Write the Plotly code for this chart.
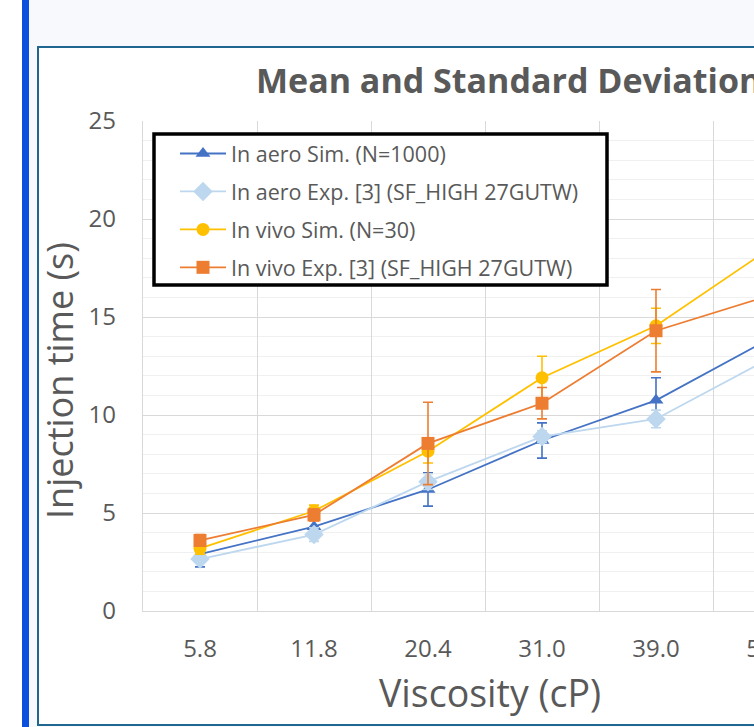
import plotly.graph_objects as go

# ---------------- data ----------------
categories = ["5.8", "11.8", "20.4", "31.0", "39.0", "50.0"]

aero_sim = [2.9, 4.3, 6.2, 8.7, 10.75, 13.9]
aero_sim_sd = [0.65, 0.5, 0.85, 0.9, 1.15, 1.2]

aero_exp = [2.65, 3.9, 6.6, 8.9, 9.8, 12.9]
aero_exp_sd = [0.2, 0.35, 0.4, 0.3, 0.45, 0.5]

vivo_sim = [3.2, 5.1, 8.15, 11.9, 14.55, 18.5]
vivo_sim_sd = [0.3, 0.3, 0.6, 1.1, 0.9, 1.0]

vivo_exp = [3.6, 4.9, 8.55, 10.6, 14.3, 16.1]
vivo_exp_sd = [0.3, 0.3, 2.1, 0.8, 2.1, 1.5]

names = [
    "In aero Sim. (N=1000)",
    "In aero Exp. [3] (SF_HIGH 27GUTW)",
    "In vivo Sim. (N=30)",
    "In vivo Exp. [3] (SF_HIGH 27GUTW)",
]

y_ticks = [0, 5, 10, 15, 20, 25]

title_text = "Mean and Standard Deviation"
x_title = "Viscosity (cP)"
y_title = "Injection time (s)"

# ---------------- layout geometry ----------------
W, H = 900, 727
L, T = 143, 121
PW, PH = 684, 490
R = W - L - PW
B = H - T - PH


def px(x):
    return (x - L) / PW


def py(y):
    return (T + PH - y) / PH


FONT = "Open Sans"
GREY = "#595959"

fig = go.Figure()

series = [
    (aero_sim, aero_sim_sd, "#4472C4", "triangle-up", 13),
    (aero_exp, aero_exp_sd, "#BDD7EE", "diamond", 15),
    (vivo_sim, vivo_sim_sd, "#FFC000", "circle", 13),
    (vivo_exp, vivo_exp_sd, "#ED7D31", "square", 13),
]

for i, (vals, sd, col, sym, ms) in enumerate(series):
    fig.add_trace(
        go.Scatter(
            x=categories,
            y=vals,
            name=names[i],
            mode="lines+markers",
            line=dict(color=col, width=1.8),
            marker=dict(symbol=sym, size=ms, color=col, line=dict(width=0)),
            error_y=dict(type="data", array=sd, visible=True, color=col,
                         thickness=1.6, width=5),
            legendgroup="g%d" % i,
        )
    )

shapes = [
    # left white strip
    dict(type="rect", xref="paper", yref="paper", x0=px(-5), x1=px(22),
         y0=py(H + 5), y1=py(-5), fillcolor="white", line=dict(width=0),
         layer="below"),
    # blue bar
    dict(type="rect", xref="paper", yref="paper", x0=px(22), x1=px(29),
         y0=py(H + 5), y1=py(-5), fillcolor="#0A4FDD", line=dict(width=0),
         layer="below"),
    # chart frame
    dict(type="rect", xref="paper", yref="paper", x0=px(38), x1=px(W + 20),
         y0=py(725), y1=py(47), fillcolor="white",
         line=dict(color="#1F6690", width=2), layer="below"),
    # legend box
    dict(type="rect", xref="paper", yref="paper", x0=px(154), x1=px(607),
         y0=py(285), y1=py(134), fillcolor="white",
         line=dict(color="black", width=3.5), layer="above"),
]

annotations = [
    dict(text="<b>%s</b>" % title_text, xref="paper", yref="paper",
         x=px(254), y=py(80), xanchor="left", yanchor="middle",
         showarrow=False, font=dict(family=FONT, size=34, color=GREY)),
    dict(text=x_title, xref="paper", yref="paper", x=px(490), y=py(692),
         xanchor="center", yanchor="middle", showarrow=False,
         font=dict(family=FONT, size=37.5, color=GREY)),
    dict(text=y_title, xref="paper", yref="paper", x=px(60), y=py(381),
         xanchor="center", yanchor="middle", textangle=-90, showarrow=False,
         font=dict(family=FONT, size=36, color=GREY)),
]

fig.update_layout(
    width=W,
    height=H,
    margin=dict(l=L, r=R, t=T, b=B, pad=0),
    paper_bgcolor="#F8F9FD",
    plot_bgcolor="white",
    font=dict(family=FONT, color=GREY),
    shapes=shapes,
    annotations=annotations,
    showlegend=True,
    legend=dict(
        x=px(175), y=py(133), xanchor="left", yanchor="top",
        bgcolor="rgba(0,0,0,0)", borderwidth=0,
        font=dict(family=FONT, size=21.5, color=GREY),
        tracegroupgap=7, itemwidth=46,
    ),
    xaxis=dict(
        type="category",
        categoryorder="array",
        categoryarray=categories,
        range=[-0.5, len(categories) - 0.5],
        tickson="boundaries",
        showgrid=True,
        gridcolor="#D9D9D9",
        gridwidth=1.3,
        showline=True,
        linecolor="#D9D9D9",
        linewidth=1.3,
        ticks="",
        ticklabelstandoff=16,
        tickfont=dict(family=FONT, size=24, color=GREY),
        zeroline=False,
    ),
    yaxis=dict(
        range=[0, 25],
        tickvals=y_ticks,
        showgrid=True,
        gridcolor="#D9D9D9",
        gridwidth=1.3,
        minor=dict(dtick=1, showgrid=True, gridcolor="#F0F0F0", gridwidth=1.2),
        showline=True,
        linecolor="#D9D9D9",
        linewidth=1.3,
        ticks="",
        ticklabelstandoff=21,
        tickfont=dict(family=FONT, size=24, color=GREY),
        zeroline=False,
    ),
)

fig.write_html(
    "out.html",
    post_script=(
        "document.body.style.margin='0';"
        "document.body.style.overflow='hidden';"
        "document.documentElement.style.overflow='hidden';"
    ),
)
